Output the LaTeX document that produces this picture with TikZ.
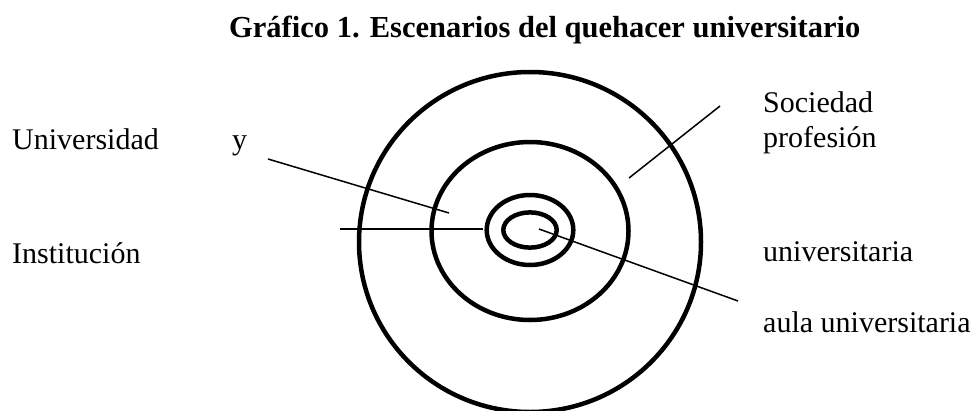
\documentclass[tikz,border=0pt]{standalone}
\usepackage{fontspec}
\setmainfont{Liberation Serif}
\begin{document}
\begin{tikzpicture}[x=1pt,y=-1pt,
  ring/.style={draw=black,line width=4.5pt},
  leader/.style={draw=black,line width=1.5pt},
  lbl/.style={anchor=base west,inner sep=0pt,font=\fontsize{30}{36}\selectfont},
  ttl/.style={anchor=base west,inner sep=0pt,font=\fontsize{30.5}{36}\selectfont\bfseries}]
\useasboundingbox (0,0) rectangle (977,410);
% rings
\draw[ring] (530,242) ellipse [x radius=171,y radius=170];
\draw[ring] (530,231) ellipse [x radius=98.5,y radius=89];
\draw[ring] (530,230) ellipse [x radius=43.3,y radius=35];
\draw[ring] (530,230) ellipse [x radius=26.7,y radius=17.6];
% title
\node[ttl] (title) at (229,37) {Gráfico 1. Escenarios del quehacer universitario};
% labels
\node[lbl] (univ) at (12,149) {Universidad};
\node[lbl] (yy) at (232,149) {y};
\node[lbl] (inst) at (12,263) {Institución};
\node[lbl] (soc) at (763,112) {Sociedad};
\node[lbl] (prof) at (763,147) {profesión};
\node[lbl] (univ2) at (763,261) {universitaria};
\node[lbl] (aula) at (763,332) {aula universitaria};
% leader coordinates
\coordinate (s1) at (720,106); \coordinate (s2) at (629,178);
\coordinate (u1) at (268,159); \coordinate (u2) at (449,213);
\coordinate (i1) at (340,229); \coordinate (i2) at (483,229);
\coordinate (a1) at (539,229); \coordinate (a2) at (738,301);
\draw[leader] (s1) -- (s2);
\draw[leader] (u1) -- (u2);
\draw[leader] (i1) -- (i2);
\draw[leader] (a1) -- (a2);
\end{tikzpicture}
\end{document}
